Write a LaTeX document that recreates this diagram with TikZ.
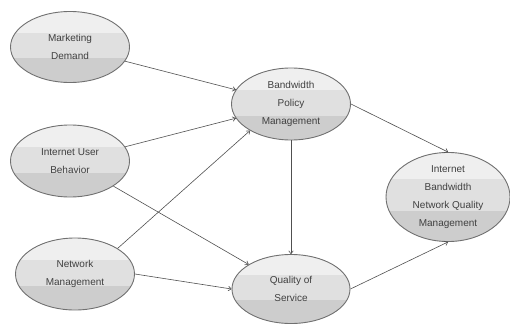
\documentclass[tikz,border=0pt]{standalone}
\usepackage{fontspec}
\setmainfont{Liberation Sans}
\usetikzlibrary{shapes.geometric,arrows.meta,calc}
\definecolor{bandA}{HTML}{EFEFEF}
\definecolor{bandB}{HTML}{E0E0E0}
\definecolor{bandC}{HTML}{CDCDCD}
\definecolor{edgecol}{HTML}{707070}
\definecolor{linecol}{HTML}{505050}
\tikzset{
  bubble/.style={ellipse, draw=edgecol, line width=0.9pt, inner sep=0pt,
    minimum width=#1, text=black!75, align=center,
    font=\fontsize{10pt}{18pt}\selectfont,
    path picture={
      \fill[bandC] (path picture bounding box.south west) rectangle (path picture bounding box.north east);
      \fill[bandB] let \p1=(path picture bounding box.south west),
                       \p2=(path picture bounding box.north east) in
        (\x1,{\y1+0.34*(\y2-\y1)}) rectangle (\x2,\y2);
      \fill[bandA] let \p1=(path picture bounding box.south west),
                       \p2=(path picture bounding box.north east) in
        (\x1,{\y1+0.70*(\y2-\y1)}) rectangle (\x2,\y2);
    }},
  link/.style={draw=linecol, line width=0.6pt, -{To[length=3.5pt,width=5pt]}}
}
\begin{document}
\begin{tikzpicture}[x=1pt,y=-1pt]
\useasboundingbox (0,0) rectangle (510,324);
\node[bubble=119pt, minimum height=71pt] (md) at (70,47) {Marketing\\Demand};
\node[bubble=119pt, minimum height=72pt] (iub) at (70,161) {Internet User\\Behavior};
\node[bubble=119pt, minimum height=72pt] (nm) at (75,274) {Network\\Management};
\node[bubble=119pt, minimum height=72pt] (bpm) at (291,104) {Bandwidth\\Policy\\Management};
\node[bubble=118pt, minimum height=69pt] (qos) at (291,289) {Quality of\\Service};
\node[bubble=124pt, minimum height=80pt] (ibn) at (448,197) {Internet\\Bandwidth\\Network Quality\\Management};
\draw[link] (md) -- (bpm);
\draw[link] (iub) -- (bpm);
\draw[link] (nm.31) -- (bpm.213);
\draw[link] (iub) -- (qos);
\draw[link] (nm.east) -- (qos.west);
\draw[link] (bpm) -- (qos);
\draw[link] (bpm.east) -- (ibn.north);
\draw[link] (qos.east) -- (ibn.south);
\end{tikzpicture}
\end{document}
